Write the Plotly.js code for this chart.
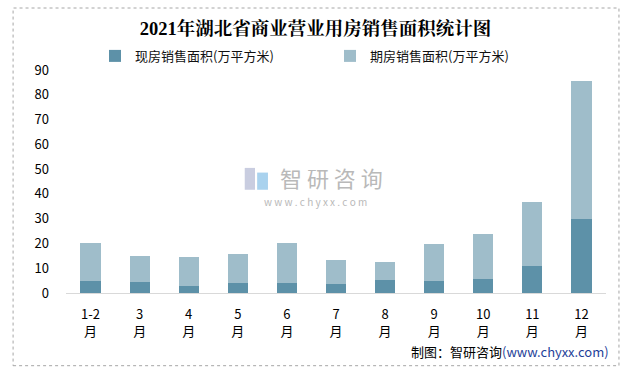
<!DOCTYPE html>
<html>
<head>
<meta charset="utf-8">
<script src="https://cdn.plot.ly/plotly-3.0.1.min.js"></script>
<style>html,body{margin:0;padding:0;background:#fff;}#chart{width:631px;height:373px;}</style>
</head>
<body>
<div id="chart"></div>
<script>
const categories = ["1-2<br>月","3<br>月","4<br>月","5<br>月","6<br>月","7<br>月","8<br>月","9<br>月","10<br>月","11<br>月","12<br>月"];
const currentName = "现房销售面积(万平方米)";
const futureName = "期房销售面积(万平方米)";
const currentSales = [5.0, 4.6, 2.9, 4.2, 4.2, 3.7, 5.3, 4.9, 5.7, 11.0, 29.9];
const futureSales = [15.3, 10.4, 11.8, 11.6, 16.1, 9.7, 7.3, 15.0, 18.2, 25.8, 55.7];
const yTicks = [0,10,20,30,40,50,60,70,80,90];

const baseFont = "Noto Sans CJK SC, Liberation Sans, sans-serif";

const traces = [
  {type:"bar", name: currentName, x: categories, y: currentSales, legend:"legend",
   marker:{color:"#5d91a8"}, hoverinfo:"skip"},
  {type:"bar", name: futureName, x: categories, y: futureSales, legend:"legend2",
   marker:{color:"#9fbdca"}, hoverinfo:"skip"}
];

const legendFont = {family:baseFont, size:13, color:"#111"};

const layout = {
  width:631, height:373,
  margin:{l:66, r:25, t:70, b:80},
  paper_bgcolor:"#fff", plot_bgcolor:"#fff",
  barmode:"stack", bargap:0.59,
  font:{family:baseFont, size:13, color:"#000"},
  title:{text:"2021年湖北省商业营业用房销售面积统计图",
         font:{family:"Liberation Serif, Noto Serif CJK SC, Noto Sans CJK SC, serif", size:18.5, color:"#000", weight:"bold"},
         x:0.5, xanchor:"center", y:0.924, yanchor:"middle", xref:"container", yref:"container"},
  showlegend:true,
  legend:{orientation:"h", x:(95-66)/540, y:1.063, xanchor:"left", yanchor:"middle",
          itemwidth:30, font:legendFont, bgcolor:"rgba(0,0,0,0)"},
  legend2:{orientation:"h", x:(330-66)/540, y:1.063, xanchor:"left", yanchor:"middle",
          itemwidth:30, font:legendFont, bgcolor:"rgba(0,0,0,0)"},
  xaxis:{type:"category", showline:true, linecolor:"#d9d9d9", linewidth:1,
         showgrid:false, zeroline:false, ticks:"", ticklabelstandoff:9,
         tickfont:{size:13, color:"#000"}, fixedrange:true},
  yaxis:{range:[0,90], tickmode:"array", tickvals:yTicks, ticktext:yTicks.map(String),
         showgrid:false, zeroline:false, showline:false, ticks:"", ticklabelstandoff:16,
         tickfont:{size:13, color:"#000"}, fixedrange:true},
  shapes:[
    {type:"rect", xref:"paper", yref:"paper", x0:-0.098, x1:1.024, y0:-0.326, y1:1.278,
     line:{color:"#a6a6a6", width:1, dash:"dot"}, fillcolor:"rgba(0,0,0,0)", layer:"below"},
    {type:"rect", xref:"paper", yref:"paper", x0:0.331, x1:0.350, y0:0.463, y1:0.561,
     line:{width:0}, fillcolor:"#c9cde0", layer:"below"},
    {type:"rect", xref:"paper", yref:"paper", x0:0.354, x1:0.374, y0:0.463, y1:0.540,
     line:{width:0}, fillcolor:"#a9d2ee", layer:"below"}
  ],
  annotations:[
    {text:"智 研 咨 询", xref:"paper", yref:"paper", x:(331-66)/540, y:(293.3-177)/223.3, xanchor:"center", yanchor:"middle",
     showarrow:false, font:{size:22, color:"#b9b9b9"}},
    {text:"w w w . c h y x x . c o m", xref:"paper", yref:"paper", x:(315-66)/540, y:(293.3-202)/223.3, xanchor:"center", yanchor:"middle",
     showarrow:false, font:{size:10, color:"#b9b9b9"}},
    {text:"制图：智研咨询<span style='color:#1f3f99'>(www.chyxx.com)</span>", xref:"paper", yref:"paper",
     x:1.009, y:-0.263, xanchor:"right", yanchor:"middle", showarrow:false, font:{size:13, color:"#000"}}
  ]
};

Plotly.newPlot("chart", traces, layout, {displayModeBar:false, staticPlot:true});
</script>
</body>
</html>
